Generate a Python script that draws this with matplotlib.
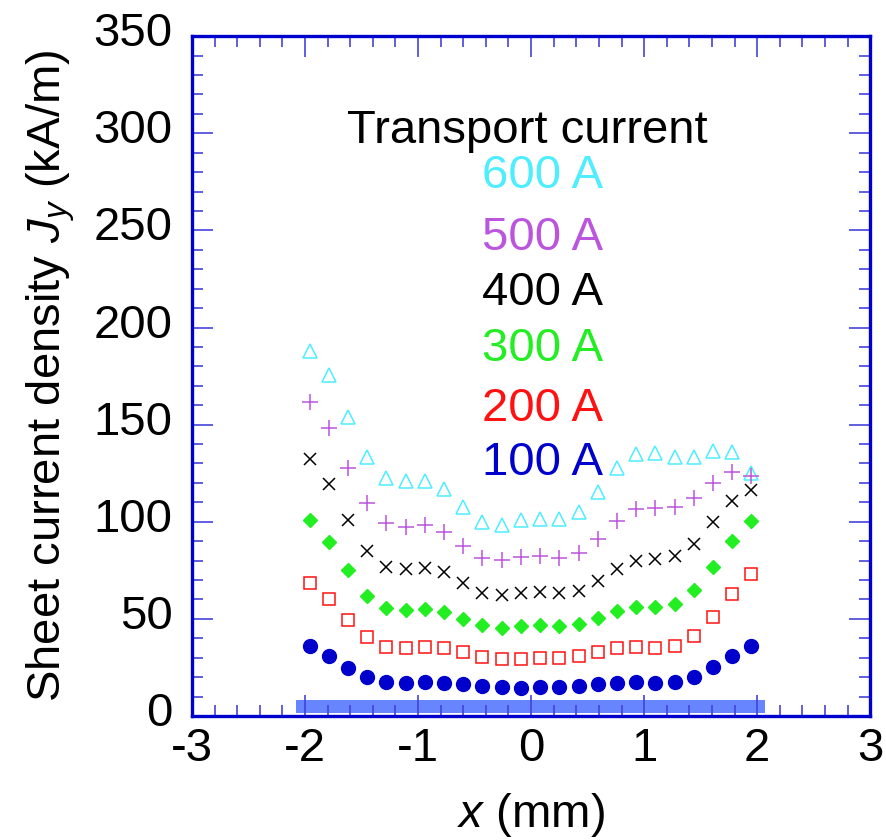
import matplotlib.pyplot as plt
import matplotlib.transforms as mtransforms
from matplotlib.ticker import MultipleLocator

plt.rcParams["font.family"] = ["Liberation Sans", "DejaVu Sans"]
plt.rcParams["mathtext.fontset"] = "custom"
plt.rcParams["mathtext.it"] = "Liberation Sans:italic"
plt.rcParams["mathtext.rm"] = "Liberation Sans"
plt.rcParams["axes.unicode_minus"] = False

# position across the tape width (mm)
x_mm = [-1.96, -1.79, -1.62, -1.45, -1.28, -1.11, -0.94, -0.77, -0.60, -0.43, -0.26, -0.09,
        0.08, 0.25, 0.42, 0.59, 0.76, 0.93, 1.10, 1.27, 1.44, 1.61, 1.78, 1.95]

# sheet current density (kA/m) for each transport current
j_600 = [188.0, 175.5, 153.7, 133.5, 122.3, 121.0, 121.1, 116.7, 107.4, 100.0, 98.3, 100.9,
         101.5, 101.2, 104.8, 115.1, 127.6, 134.8, 135.5, 133.5, 133.3, 136.5, 135.7, 124.9]
j_500 = [161.8, 148.1, 127.8, 109.5, 99.2, 97.4, 98.3, 94.9, 87.5, 81.5, 80.3, 82.0,
         82.5, 81.5, 83.7, 91.1, 100.4, 106.4, 106.9, 107.7, 112.0, 119.8, 125.8, 123.5]
j_400 = [132.1, 119.2, 100.9, 85.1, 76.5, 75.7, 76.0, 73.9, 68.3, 63.1, 62.3, 63.5,
         64.0, 63.1, 64.3, 69.6, 75.8, 79.8, 80.6, 82.3, 88.7, 99.7, 110.5, 116.2]
j_300 = [100.9, 89.6, 75.1, 61.9, 55.7, 54.6, 54.9, 53.7, 50.1, 46.7, 45.5, 46.3,
         46.7, 46.2, 47.2, 50.6, 54.2, 56.1, 56.1, 57.6, 64.7, 76.5, 90.1, 100.2]
j_200 = [68.3, 60.2, 49.4, 40.8, 35.7, 34.8, 35.7, 34.8, 33.1, 30.5, 29.3, 29.3,
         29.7, 29.7, 30.9, 33.1, 34.8, 35.4, 34.8, 36.2, 41.3, 51.1, 62.8, 72.9]
j_100 = [36.2, 30.9, 24.9, 19.9, 17.7, 17.2, 17.7, 17.2, 16.5, 15.4, 14.8, 14.2,
         14.8, 14.8, 15.4, 16.5, 17.2, 17.7, 17.2, 17.7, 20.2, 25.4, 30.9, 36.2]

labels = ["600 A", "500 A", "400 A", "300 A", "200 A", "100 A"]

# tape cross-section drawn along the bottom
tape_x = [-2.08, 2.07]
tape_y = [1.7, 8.2]

frame_blue = "#0000cc"
tick_blue = "#4444dd"
fs = 34

fig = plt.figure(figsize=(8.87, 8.40), dpi=100)
ax = fig.add_axes([0.2165, 0.1476, 0.981 - 0.2165, 0.957 - 0.1476])

ax.fill_between(tape_x, tape_y[0], tape_y[1], color="#6685ff", lw=0)

ax.plot(x_mm, j_600, ls="none", marker="^", ms=10, mfc="none", mec="#4eeeff", mew=1.1)
ax.plot(x_mm, j_500, ls="none", marker="+", ms=11, mec="#bb55dd", mew=1.1)
ax.plot(x_mm, j_400, ls="none", marker="x", ms=9, mec="black", mew=1.1)
ax.plot(x_mm, j_300, ls="none", marker="D", ms=7, mfc="#22ee22", mec="#22ee22")
ax.plot(x_mm, j_200, ls="none", marker="s", ms=9, mfc="none", mec="#ff1111", mew=1.1)
ax.plot(x_mm, j_100, ls="none", marker="o", ms=10, mfc="#0000cc", mec="#0000cc")

ax.set_xlim(-3, 3)
ax.set_ylim(0, 350)
ax.xaxis.set_major_locator(MultipleLocator(1))
ax.xaxis.set_minor_locator(MultipleLocator(0.2))
ax.yaxis.set_major_locator(MultipleLocator(50))
ax.yaxis.set_minor_locator(MultipleLocator(10))
ax.tick_params(which="both", direction="in", top=True, right=True,
               color=tick_blue, width=1.2, labelsize=fs)
ax.tick_params(axis="x", pad=8)
ax.tick_params(axis="y", pad=14)
ax.tick_params(which="major", length=15)
ax.tick_params(which="minor", length=8)
for s in ax.spines.values():
    s.set_color(frame_blue)
    s.set_linewidth(2.4)

# y tick numbers sit a little above their ticks
lift = mtransforms.ScaledTranslation(0, 7 / 100, fig.dpi_scale_trans)
for t in ax.yaxis.get_major_ticks():
    t.label1.set_transform(t.label1.get_transform() + lift)

ax.set_xlabel("$x$ (mm)", fontsize=fs, labelpad=14)
ax.set_ylabel("Sheet current density $J_y$ (kA/m)", fontsize=fs, labelpad=12)

# key: title and one line per transport current
ax.text(-0.03, 301, "Transport current", fontsize=fs, ha="center", va="center")
key_colors = ["#4eeeff", "#bb55dd", "black", "#22ee22", "#ff1111", "#0000cc"]
key_y = [278, 246, 218, 189, 158, 130]
for lab, c, yy in zip(labels, key_colors, key_y):
    ax.text(0.1, yy, lab, fontsize=fs, color=c, ha="center", va="center")

fig.savefig("out.png", dpi=100)
